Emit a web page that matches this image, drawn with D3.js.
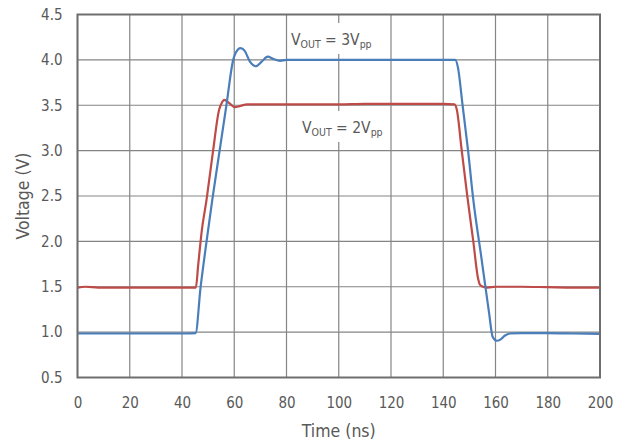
<!DOCTYPE html>
<html><head><meta charset="utf-8">
<script src="https://cdn.jsdelivr.net/npm/d3@7"></script>
<style>
html,body{margin:0;padding:0;background:#fff;}
text{font-family:"DejaVu Sans Condensed","DejaVu Sans",sans-serif;font-stretch:condensed;fill:#595959;}
</style></head><body>
<svg id="chart" width="628" height="447"></svg>
<script>
// ---- data ----
const xTicks = [0, 20, 40, 60, 80, 100, 120, 140, 160, 180, 200];
const yTicks = [0.5, 1.0, 1.5, 2.0, 2.5, 3.0, 3.5, 4.0, 4.5];

const tRed = [0, 3, 8, 15, 25, 35, 42, 45.3, 46.2, 47.5, 49.4, 51.9, 54.2, 55.3, 56.1, 57.0, 58.2, 60.3, 62, 65, 70, 80, 90, 100, 110, 120, 130, 140, 144.3, 145.2, 147.0, 149.2, 151.5, 153.4, 154.1, 155.2, 157, 160, 170, 180, 190, 196, 200];
const vRed = [1.49, 1.50, 1.49, 1.49, 1.49, 1.49, 1.49, 1.49, 1.74, 2.10, 2.46, 3.00, 3.45, 3.53, 3.56, 3.55, 3.52, 3.48, 3.49, 3.51, 3.51, 3.51, 3.51, 3.51, 3.515, 3.515, 3.515, 3.515, 3.51, 3.45, 3.02, 2.50, 2.00, 1.58, 1.52, 1.50, 1.49, 1.50, 1.50, 1.495, 1.49, 1.49, 1.49];

const tBlue = [0, 5, 15, 25, 35, 42, 45.2, 47.1, 49.4, 51.6, 54.4, 57.0, 59.6, 60.6, 62.4, 64, 66, 68.3, 70.5, 72.8, 75, 77.5, 80, 90, 100, 110, 120, 130, 140, 144.6, 145.6, 147.4, 149.5, 151.5, 154.5, 157.5, 158.9, 160.5, 162, 163.5, 165.6, 170, 180, 190, 200];
const vBlue = [0.985, 0.985, 0.985, 0.985, 0.985, 0.985, 0.99, 1.49, 2.00, 2.46, 3.00, 3.50, 4.00, 4.08, 4.13, 4.10, 3.98, 3.93, 3.98, 4.035, 4.01, 3.99, 4.0, 4.0, 4.0, 4.0, 4.0, 4.0, 4.0, 4.0, 3.92, 3.50, 3.00, 2.46, 1.84, 1.22, 0.95, 0.905, 0.92, 0.96, 0.985, 0.99, 0.99, 0.985, 0.98];

const xLabel = "Time (ns)";
const yLabel = "Voltage (V)";

// ---- layout ----
const svg = d3.select("#chart");
const m = {left: 77.5, top: 14.5, right: 600, bottom: 377.5};
const x = d3.scaleLinear().domain([0, 200]).range([m.left, m.right]);
const y = d3.scaleLinear().domain([0.5, 4.5]).range([m.bottom, m.top]);

// grid
const grid = svg.append("g");
grid.selectAll("line.v").data(xTicks).join("line")
  .attr("x1", d => x(d)).attr("x2", d => x(d))
  .attr("y1", m.top).attr("y2", m.bottom)
  .attr("stroke", "#858585").attr("stroke-width", 1.2);
grid.selectAll("line.h").data(yTicks).join("line")
  .attr("x1", m.left).attr("x2", m.right)
  .attr("y1", d => y(d)).attr("y2", d => y(d))
  .attr("stroke", "#858585").attr("stroke-width", 1.2);

// annotation boxes
function label(xp, yp, val, boxW) {
  svg.append("rect").attr("x", xp - 3).attr("y", yp - 22).attr("width", boxW).attr("height", 31).attr("fill", "#fff");
  const t = svg.append("text").attr("x", xp).attr("y", yp).attr("font-size", 15.5);
  t.append("tspan").text("V");
  t.append("tspan").attr("font-size", 10.5).attr("dy", 3).text("OUT");
  t.append("tspan").attr("dy", -3).text(" = " + val + "V");
  t.append("tspan").attr("font-size", 10.5).attr("dy", 3).text("pp");
}
label(291, 45, "3", 90);
label(302, 133, "2", 90);

// lines
const line = d3.line().x(d => x(d[0])).y(d => y(d[1])).curve(d3.curveMonotoneX);
svg.append("path").datum(d3.zip(tRed, vRed)).attr("d", line)
  .attr("fill", "none").attr("stroke", "#be4b48").attr("stroke-width", 2.2).attr("stroke-linejoin", "round");
svg.append("path").datum(d3.zip(tBlue, vBlue)).attr("d", line)
  .attr("fill", "none").attr("stroke", "#4a7ebb").attr("stroke-width", 2.2).attr("stroke-linejoin", "round");

// border
svg.append("rect").attr("x", m.left).attr("y", m.top).attr("width", m.right - m.left).attr("height", m.bottom - m.top)
  .attr("fill", "none").attr("stroke", "#6e6e6e").attr("stroke-width", 2);

// axes (labels only)
const xAxis = d3.axisBottom(x).tickValues(xTicks).tickSize(0).tickPadding(0).tickFormat(d3.format("d"));
const gx = svg.append("g").attr("transform", `translate(0,${m.bottom + 20})`).call(xAxis);
gx.select(".domain").remove();
gx.selectAll("text").attr("font-size", 15).attr("font-family", null).attr("fill", "#595959");

const yAxis = d3.axisLeft(y).tickValues(yTicks).tickSize(0).tickPadding(15).tickFormat(d3.format(".1f"));
const gy = svg.append("g").attr("transform", `translate(${m.left},0)`).call(yAxis);
gy.select(".domain").remove();
gy.selectAll("text").attr("font-size", 15).attr("font-family", null).attr("fill", "#595959");

svg.append("text").attr("x", x(100)).attr("y", 437).attr("text-anchor", "middle").attr("font-size", 17.5).text(xLabel);
svg.append("text").attr("transform", "translate(29,196) rotate(-90)").attr("text-anchor", "middle").attr("font-size", 17.5).text(yLabel);
</script>
</body></html>
